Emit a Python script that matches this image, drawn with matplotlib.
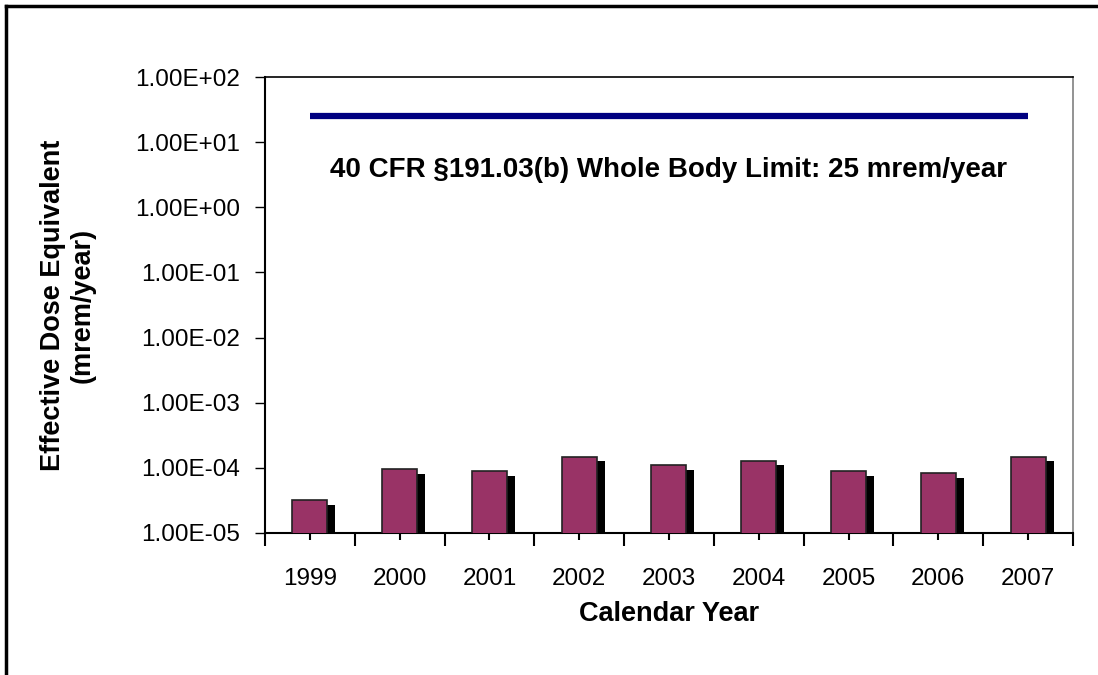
import matplotlib
matplotlib.use("Agg")
import matplotlib.pyplot as plt
from matplotlib.ticker import FixedLocator, FuncFormatter, NullFormatter
from matplotlib.lines import Line2D
import numpy as np

plt.rcParams["font.family"] = ["Liberation Sans", "DejaVu Sans"]

years = ["1999", "2000", "2001", "2002", "2003", "2004", "2005", "2006", "2007"]
dose = [3.2e-5, 9.5e-5, 8.8e-5, 1.47e-4, 1.11e-4, 1.28e-4, 8.8e-5, 8.2e-5, 1.47e-4]
shadow = [2.7e-5, 8.0e-5, 7.5e-5, 1.28e-4, 9.3e-5, 1.11e-4, 7.5e-5, 7.0e-5, 1.28e-4]
limit = [25] * len(years)
limit_text = "40 CFR \u00a7191.03(b) Whole Body Limit: 25 mrem/year"

fig = plt.figure(figsize=(10.98, 6.75), dpi=100)
ax = fig.add_axes([0.2413, 0.2104, 0.7359, 0.6755])

x = np.arange(len(years))
ax.set_yscale("log")
ax.bar(x + 0.089, shadow, width=0.39, color="black", zorder=2)
ax.bar(x, dose, width=0.39, color="#993366", edgecolor="#222222", linewidth=1.2, zorder=3)
ax.plot(x, limit, color="#000080", linewidth=4.5, solid_capstyle="butt", zorder=4)
ax.text(4, 3.7, limit_text, ha="center", va="center", fontsize=20, fontweight="bold")

ax.set_xlim(-0.5, len(years) - 0.5)
ax.set_ylim(1e-5, 1e2)

ax.yaxis.set_major_locator(FixedLocator([10.0 ** k for k in range(-5, 3)]))
ax.yaxis.set_minor_locator(FixedLocator([]))
ax.yaxis.set_major_formatter(FuncFormatter(lambda v, p: "%.2E" % v))
ax.tick_params(axis="y", direction="out", length=7, width=1, labelsize=17.5, pad=11)

ax.set_xticks(x)
ax.set_xticklabels(years)
ax.xaxis.set_minor_locator(FixedLocator(np.arange(-0.5, len(years), 1.0)))
ax.xaxis.set_minor_formatter(NullFormatter())
ax.tick_params(axis="x", which="major", direction="out", length=5, width=1.5, labelsize=17.5, pad=20)
ax.tick_params(axis="x", which="minor", direction="out", length=9, width=1.5)

ax.spines["left"].set_linewidth(1.5)
ax.spines["bottom"].set_linewidth(1.5)
ax.spines["top"].set_linewidth(1.2)
ax.spines["right"].set_color("#808080")
ax.spines["right"].set_linewidth(1.2)

ax.set_xlabel("Calendar Year", fontsize=19.5, fontweight="bold", labelpad=8)
ax.set_ylabel("Effective Dose Equivalent\n(mrem/year)", fontsize=19.5, fontweight="bold", labelpad=28)

# outer chart border (left and top only visible)
fig.add_artist(Line2D([0.0059, 0.0059], [0, 0.9911], transform=fig.transFigure, color="black", linewidth=2.5))
fig.add_artist(Line2D([0.0059, 1.0], [0.9911, 0.9911], transform=fig.transFigure, color="black", linewidth=2.5))

fig.savefig("out.png", dpi=100)
